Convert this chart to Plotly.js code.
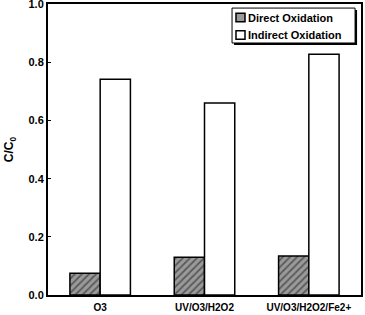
<!DOCTYPE html>
<html>
<head>
<meta charset="utf-8">
<script src="https://cdn.plot.ly/plotly-3.0.1.min.js"></script>
<style>
  html, body { margin: 0; padding: 0; background: #fff; }
  #chart { width: 365px; height: 315px; }
</style>
</head>
<body>
<div id="chart"></div>
<script>
// Treatment processes
const processes = ["O3", "UV/O3/H2O2", "UV/O3/H2O2/Fe2+"];
// Remaining fraction C/C0 per oxidation pathway
const directOxidation = [0.075, 0.13, 0.134];
const indirectOxidation = [0.742, 0.66, 0.828];
const seriesNames = ["Direct Oxidation", "Indirect Oxidation"];
const yTicks = [0, 0.2, 0.4, 0.6, 0.8, 1.0];
const yTickLabels = ["0.0", "0.2", "0.4", "0.6", "0.8", "1.0"];

const fontFamily = "Liberation Sans, Arial, sans-serif";
const directFill = "#9a9a9a";

const traces = [
  {
    type: "bar",
    name: seriesNames[0],
    x: processes,
    y: directOxidation,
    marker: {
      color: directFill,
      line: { color: "#000", width: 1.5 },
      pattern: { shape: "/", bgcolor: directFill, fgcolor: "#5a5a5a", size: 5, solidity: 0.35 }
    }
  },
  {
    type: "bar",
    name: seriesNames[1],
    x: processes,
    y: indirectOxidation,
    marker: { color: "#fff", line: { color: "#000", width: 1.5 } }
  }
];

// Compact boxed key in the upper right corner, with a drop shadow
const key = { x0: 0.588, x1: 0.981, y0: 0.866, y1: 0.986 };
const swatchX = [0.6006, 0.6294];
const rowY = [0.9536, 0.8935];
const swatchHalf = 0.0150;
const swatchFills = [directFill, "#fff"];

const shapes = [
  { type: "rect", xref: "paper", yref: "paper", layer: "above",
    x0: key.x0 + 0.0064, x1: key.x1 + 0.0064, y0: key.y0 - 0.0069, y1: key.y1 - 0.0069,
    fillcolor: "#000", line: { width: 0 } },
  { type: "rect", xref: "paper", yref: "paper", layer: "above",
    x0: key.x0, x1: key.x1, y0: key.y0, y1: key.y1,
    fillcolor: "#fff", line: { color: "#000", width: 1 } }
];
const annotations = [];
seriesNames.forEach((name, i) => {
  shapes.push({ type: "rect", xref: "paper", yref: "paper", layer: "above",
    x0: swatchX[0], x1: swatchX[1], y0: rowY[i] - swatchHalf, y1: rowY[i] + swatchHalf,
    fillcolor: swatchFills[i], line: { color: "#000", width: 1.5 } });
  annotations.push({ xref: "paper", yref: "paper", x: 0.637, y: rowY[i],
    xanchor: "left", yanchor: "middle", showarrow: false, borderpad: 0,
    text: "<b>" + name + "</b>",
    font: { family: fontFamily, size: 11, color: "#000" } });
});

const layout = {
  width: 365,
  height: 315,
  margin: { l: 48, r: 4, t: 4, b: 20 },
  paper_bgcolor: "#fff",
  plot_bgcolor: "#fff",
  barmode: "group",
  bargap: 0.42,
  bargroupgap: 0,
  font: { family: fontFamily, color: "#000" },
  showlegend: false,
  shapes: shapes,
  annotations: annotations,
  xaxis: {
    range: [-0.5, 2.5],
    showline: true, linecolor: "#000", linewidth: 2, mirror: true,
    ticks: "", showgrid: false, zeroline: false,
    ticklabelstandoff: 2,
    tickfont: { family: fontFamily, size: 10, weight: "bold" }
  },
  yaxis: {
    range: [0, 1.0005],
    tickmode: "array",
    tickvals: yTicks,
    ticktext: yTickLabels,
    ticklabeloverflow: "allow",
    showline: true, linecolor: "#000", linewidth: 2, mirror: true,
    ticks: "inside", ticklen: 3, tickwidth: 1, tickcolor: "#000",
    showgrid: false, zeroline: false,
    tickfont: { family: fontFamily, size: 11, weight: "bold" },
    title: {
      text: "<b>C/C<sub>0</sub></b>",
      font: { family: fontFamily, size: 12 },
      standoff: 12
    }
  }
};

Plotly.newPlot("chart", traces, layout, { displayModeBar: false, staticPlot: true });
</script>
</body>
</html>
